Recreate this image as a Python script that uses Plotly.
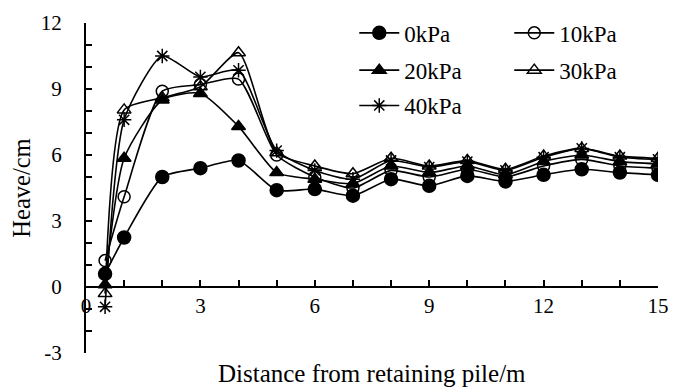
import plotly.graph_objects as go

distance = [0.5, 1, 2, 3, 4, 5, 6, 7, 8, 9, 10, 11, 12, 13, 14, 15]
heave_0kpa = [0.6, 2.25, 5.0, 5.4, 5.75, 4.4, 4.45, 4.15, 4.9, 4.6, 5.05, 4.8, 5.1, 5.35, 5.2, 5.1]
heave_10kpa = [1.2, 4.1, 8.9, 9.2, 9.45, 6.0, 5.0, 4.5, 5.3, 5.0, 5.35, 5.0, 5.5, 5.8, 5.5, 5.4]
heave_20kpa = [0.1, 5.85, 8.5, 8.8, 7.3, 5.2, 4.9, 4.7, 5.5, 5.2, 5.5, 5.1, 5.7, 6.0, 5.7, 5.6]
heave_30kpa = [-0.3, 8.05, 8.6, 9.1, 10.65, 6.1, 5.5, 5.15, 5.85, 5.5, 5.75, 5.35, 5.95, 6.3, 5.95, 5.85]
heave_40kpa = [-0.9, 7.6, 10.5, 9.55, 9.85, 6.2, 5.3, 4.9, 5.75, 5.45, 5.7, 5.3, 5.9, 6.3, 5.9, 5.8]

x_tick_vals = [0, 3, 6, 9, 12, 15]
x_tick_text = ["0", "3", "6", "9", "12", "15"]
y_tick_vals = [-3, 0, 3, 6, 9, 12]
y_tick_text = ["-3", "0", "3", "6", "9", "12"]

series_names = ["0kPa", "10kPa", "20kPa", "30kPa", "40kPa"]
series_values = [heave_0kpa, heave_10kpa, heave_20kpa, heave_30kpa, heave_40kpa]
symbols = ["circle", "circle-open", "triangle-up", "triangle-up-open", "asterisk-open"]
sizes = [13, 12, 12, 12, 12]
legend_ids = ["legend", "legend", "legend2", "legend2", "legend3"]

FONT = "Liberation Serif, Times New Roman, serif"

fig = go.Figure()
for name, vals, sym, sz, lg in zip(series_names, series_values, symbols, sizes, legend_ids):
    fig.add_trace(go.Scatter(
        x=distance, y=vals, name=name, mode="lines+markers", legend=lg,
        line=dict(color="black", width=1.6, shape="spline", smoothing=0.6),
        marker=dict(symbol=sym, size=sz, color="black",
                    line=dict(color="black", width=1.5)),
    ))

def legend_row(ypos):
    return dict(orientation="h", x=0.469, y=ypos, xanchor="left", yanchor="middle",
                entrywidth=100, entrywidthmode="pixels", itemwidth=40,
                font=dict(family=FONT, size=23), bgcolor="rgba(0,0,0,0)")

# page body has an 8px margin; figure is sized so the plot area lands where the reference has it
fig.update_layout(
    width=674, height=379,
    margin=dict(l=78, r=24, t=15, b=34, autoexpand=False),
    paper_bgcolor="white", plot_bgcolor="white",
    font=dict(family=FONT, size=21, color="black"),
    showlegend=True,
    legend=legend_row(0.970),
    legend2=legend_row(0.857),
    legend3=legend_row(0.750),
    xaxis=dict(range=[0, 15], tickmode="array", tickvals=x_tick_vals, ticktext=x_tick_text,
               showgrid=False, zeroline=False, showline=True,
               linecolor="black", linewidth=2, automargin=False,
               ticks="inside", ticklen=6, tickwidth=2, tickcolor="black",
               minor=dict(dtick=1, tick0=0, ticks="inside", ticklen=6, tickwidth=2,
                          tickcolor="black", showgrid=False),
               anchor="free", position=0.2,
               tickfont=dict(family=FONT, size=21)),
    yaxis=dict(range=[-3, 12], tickmode="array", tickvals=y_tick_vals, ticktext=y_tick_text,
               showgrid=False, zeroline=False, showline=True,
               linecolor="black", linewidth=2, automargin=False,
               ticks="inside", ticklen=6, tickwidth=2, tickcolor="black",
               minor=dict(dtick=1, tick0=0, ticks="inside", ticklen=6, tickwidth=2,
                          tickcolor="black", showgrid=False),
               ticklabelstandoff=18,
               title=dict(text="Heave/cm", font=dict(family=FONT, size=24.5), standoff=3),
               tickfont=dict(family=FONT, size=21)),
)

fig.add_annotation(text="Distance from retaining pile/m", xref="paper", yref="paper",
                   x=0.5, y=0, xanchor="center", yanchor="middle", yshift=-20,
                   showarrow=False, font=dict(family=FONT, size=25))

fig.write_html("out.html")
